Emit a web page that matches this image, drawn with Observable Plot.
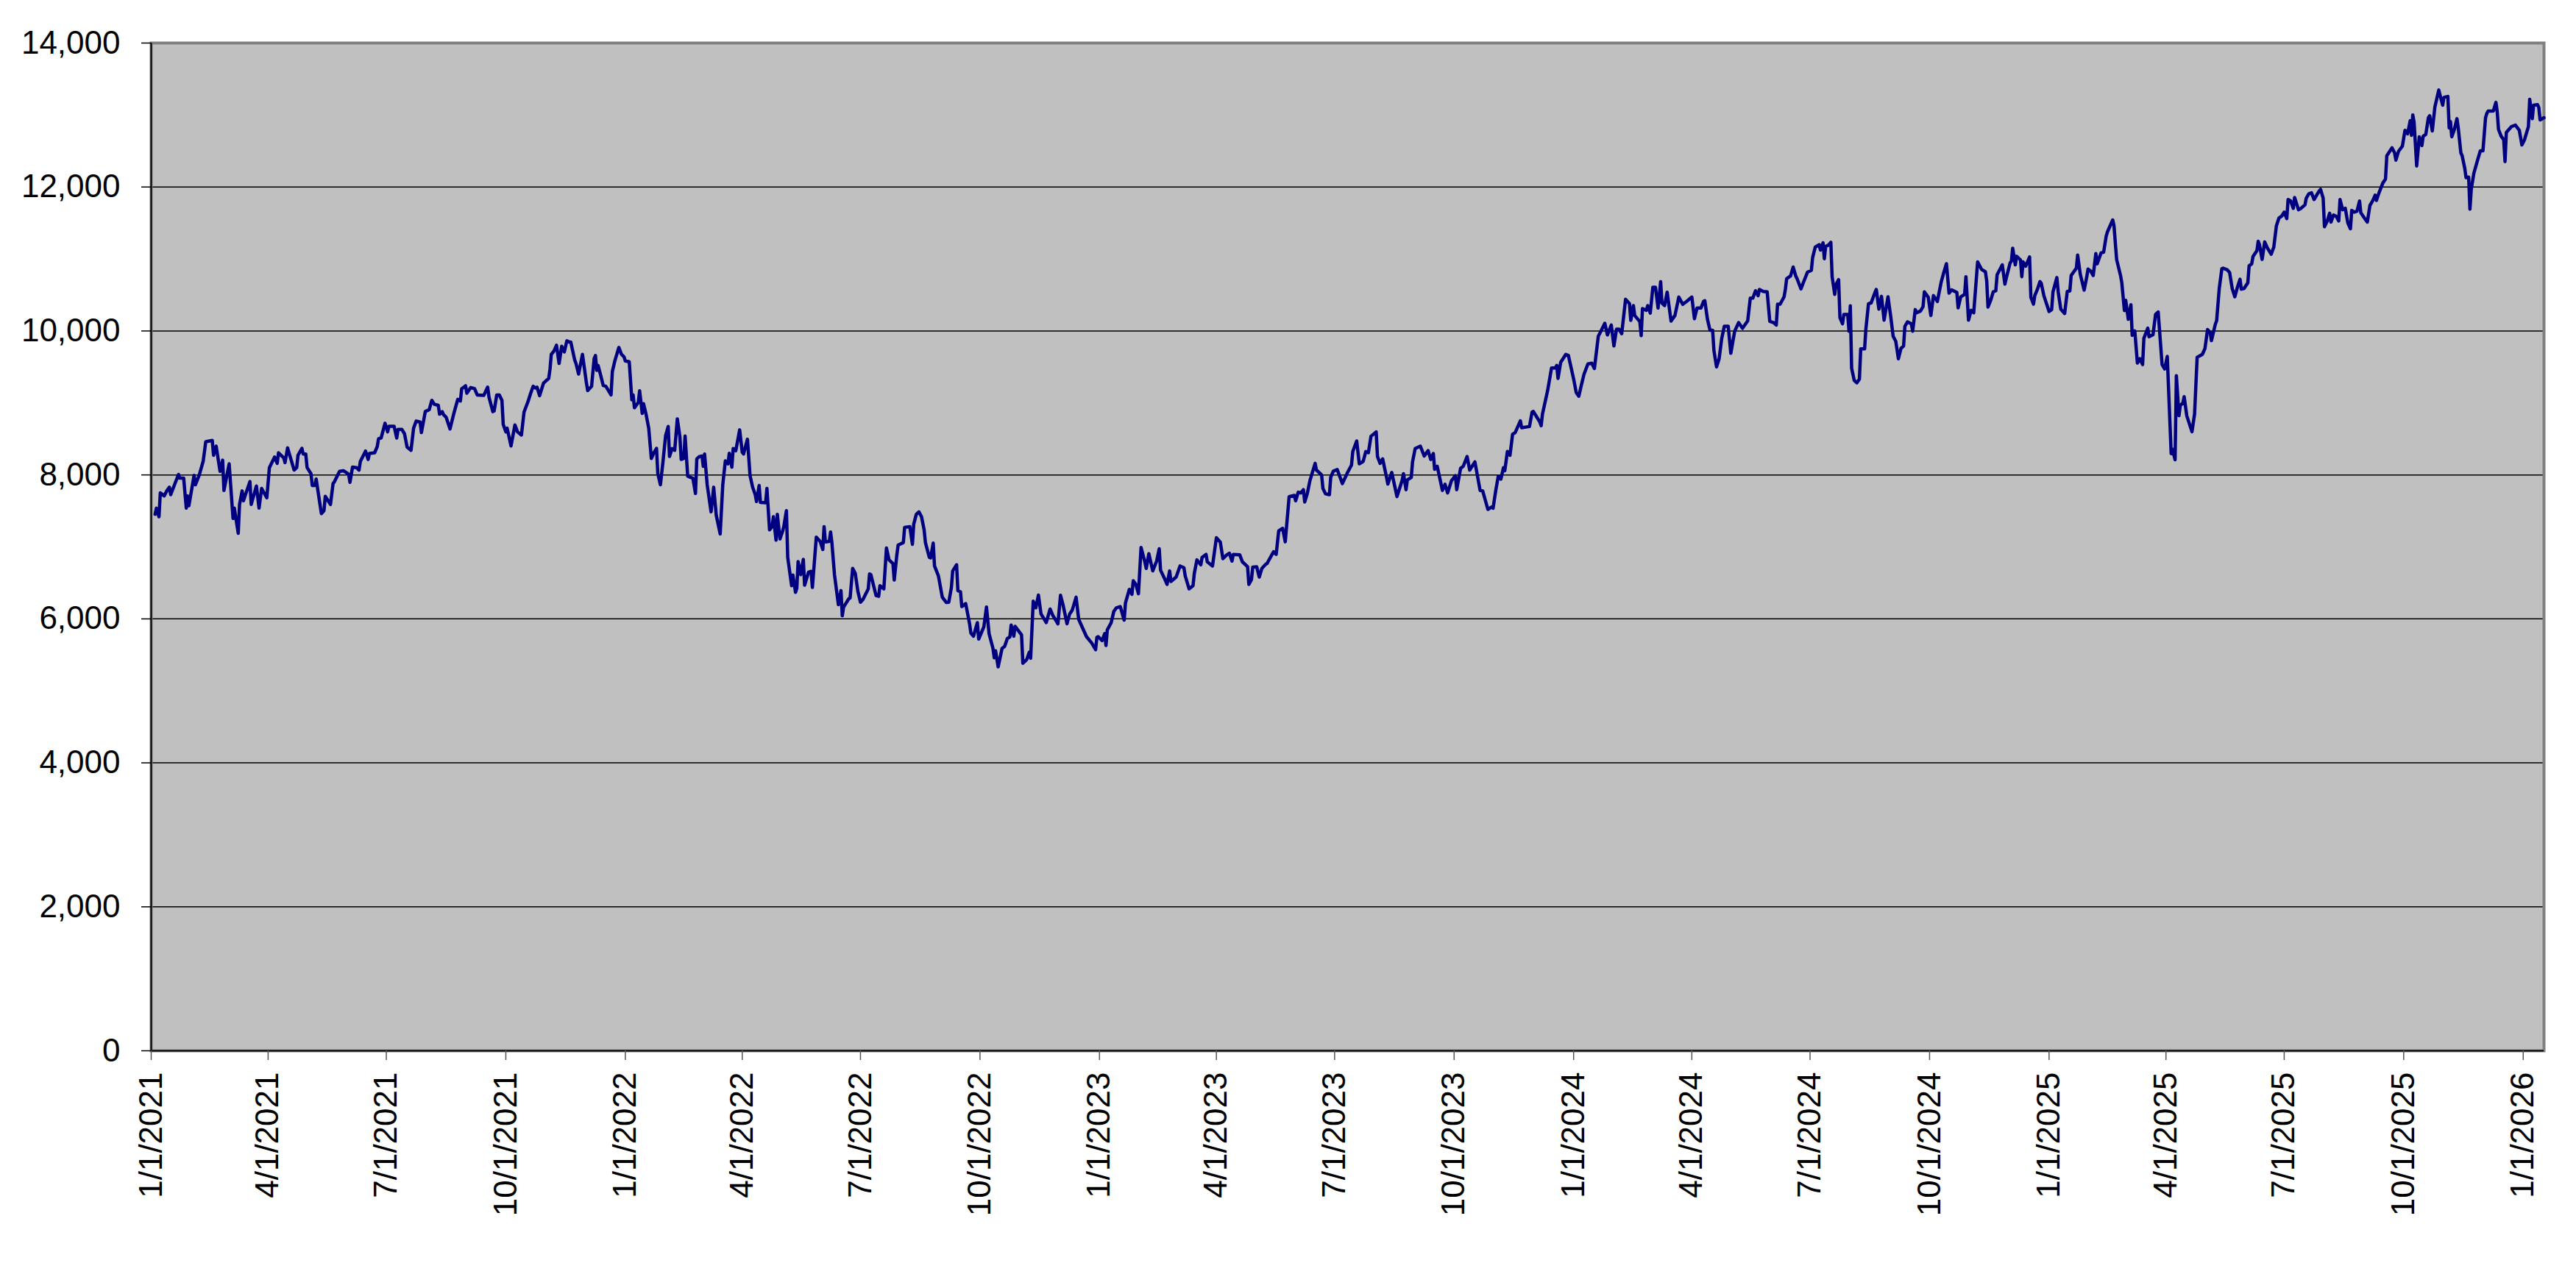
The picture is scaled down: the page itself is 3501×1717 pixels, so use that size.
<!DOCTYPE html>
<html>
<head>
<meta charset="utf-8">
<script src="https://cdn.jsdelivr.net/npm/d3@7"></script>
<script src="https://cdn.jsdelivr.net/npm/@observablehq/plot@0.6"></script>
<style>
  html, body { margin: 0; padding: 0; background: #ffffff; }
  svg { display: block; }
</style>
</head>
<body>
<div id="chart"></div>
<script>
// ---- data (x = days after startDate, y = index value) ----
const startDate = "2021-01-01";
const endDay = 1842;

const days2021 = [3,4,6,7,10,12,14,15,21,22,25,27,28,29,33,34,37,40,42,47,48,50,53,55,56,60,63,64,67,68,70,71,76,77,81,83,85,89,91,95,97,98,102,103,105,110,112,113,116,117,119,120,123,124,126,127,131,133,134,138,140,141,145,148,152,153,155,158,160,161,165,167,168,172,174,175,177,180,182,183,187,189,190,193,195,197,200,202,204,207,208,211,214,216,218,221,222,224,225,227,230,233,236,238,239,242,243,246,249,251,256,259,260,263,264,266,268,270,271,273,274,277,280,282,285,287,290,292,294,296,297,299,302,304,306,307,308,310,312,314,316,318,320,322,323,326,327,329,332,335,336,339,341,342,343,344,346,348,350,354,355,357,360];
const values2021 = [7453,7538,7419,7750,7709,7778,7829,7726,8007,7955,7955,7538,7709,7572,7993,7863,8000,8188,8461,8479,8273,8400,8051,8205,7784,8154,7395,7538,7190,7590,7778,7641,7908,7590,7846,7538,7812,7682,8102,8249,8161,8308,8239,8171,8376,8068,8102,8273,8369,8291,8291,8102,8017,7853,7853,7942,7463,7504,7702,7590,7880,7904,8051,8058,8010,7897,8109,8102,8068,8188,8332,8215,8297,8308,8393,8502,8513,8718,8598,8677,8677,8513,8632,8632,8571,8386,8342,8649,8749,8735,8588,8882,8906,9036,8981,8967,8844,8879,8838,8803,8639,8855,9050,9026,9197,9238,9135,9214,9197,9111,9104,9220,9084,8879,8889,9111,9111,9036,8701,8598,8649,8403,8694,8598,8554,8872,9015,9128,9231,9207,9220,9101,9275,9309,9340,9470,9675,9720,9802,9549,9788,9709,9863,9846,9846,9597,9549,9402,9675,9282,9173,9231,9617,9658,9453,9521,9385,9241,9231,9111,9436,9590,9771];

const days2022 = [362,364,365,368,370,371,372,375,376,378,379,381,383,385,387,389,390,392,394,396,398,399,401,403,405,407,408,410,411,413,415,417,419,420,422,424,425,426,428,431,433,435,438,440,442,444,445,447,448,450,453,455,456,459,461,463,465,466,468,469,473,474,476,478,479,481,482,484,486,487,489,490,493,494,496,497,498,500,502,503,506,508,509,512,515,517,518,519,522,523,524,526,529,531,532,533,537,538,540,542,544,546,548,552,553,554,558,560,561,564,566,568,571,572,574,575,579,580,584,586,587,589,591,593,595,596,599,600,602,603,606,609,612,614,616,617,620,621,623,624,627,630,631,633,636,637,641,643,645,648,649,650,652,655,657,659,661,662,664,665,670,671,674,676,677,679,681,683,685,689,692,694,698,700,702,705,707,709,712,714,717,720,724,727,728];
const values2022 = [9675,9641,9583,9573,9043,9111,8933,9008,9169,8855,8991,8838,8649,8229,8308,8369,8017,7863,8188,8547,8673,8256,8366,8342,8779,8530,8215,8229,8540,7983,7966,7955,7743,8222,8256,8263,8119,8291,7863,7487,7829,7436,7180,7863,8195,8154,8301,8109,8366,8335,8626,8314,8291,8496,7990,7829,7726,7631,7853,7617,7614,7812,7237,7282,7419,7094,7453,7111,7214,7282,7504,6855,6461,6609,6369,6427,6796,6615,6827,6468,6649,6660,6437,7135,7077,6964,7282,7070,7077,7207,7060,6615,6198,6393,6044,6163,6280,6290,6701,6632,6383,6232,6273,6417,6625,6615,6324,6314,6461,6417,6984,6820,6769,6540,6889,7026,7060,7272,7282,7036,7316,7453,7487,7419,7237,7060,6855,6848,7053,6735,6598,6301,6229,6232,6437,6667,6752,6393,6376,6171,6212,5932,5802,5760,5948,5719,5891,6164,5795,5590,5460,5556,5334,5590,5618,5726,5750,5914,5760,5897,5777,5384,5436,5538,5453,6246,6154,6331,6068,5948,6137,6051,5932,6328,6191,5932,6068,6120,6301,5993,5873,5753,5665,5572,5743];

const days2023 = [729,732,734,735,736,739,741,743,746,749,750,753,755,756,758,760,762,765,766,768,771,774,776,777,780,782,784,785,789,792,795,796,799,802,803,805,808,809,812,813,817,820,823,825,828,830,832,833,838,840,844,845,847,848,851,853,855,858,859,860,864,866,868,871,873,876,880,881,883,885,887,888,890,892,896,897,901,902,904,907,908,910,913,917,921,924,925,928,930,933,935,937,939,943,944,946,948,951,952,955,959,963,964,966,967,970,971,973,977,980,983,985,987,988,990,994,996,998,1001,1004,1005,1008,1010,1013,1015,1019,1023,1025,1029,1032,1033,1035,1037,1039,1041,1042,1044,1046,1048,1050,1054,1055,1059,1061,1063,1064,1069,1070,1071,1075,1078,1081,1082,1083,1085,1089,1091,1095,1097,1099];
const values2023 = [5753,5699,5795,5631,5846,5948,6102,6154,6171,5983,6222,6410,6342,6530,6479,6349,6992,6786,6701,6906,6667,6803,6974,6677,6564,6479,6667,6520,6581,6735,6711,6598,6417,6461,6632,6820,6752,6855,6896,6793,6735,7128,7067,6837,6889,6913,6803,6896,6889,6793,6725,6479,6547,6718,6725,6581,6701,6759,6769,6803,6933,6896,7224,7258,7070,7699,7716,7641,7760,7750,7795,7624,7743,7921,8161,8068,8000,7812,7737,7726,7966,8051,8075,7880,8034,8137,8325,8472,8154,8188,8325,8308,8537,8598,8256,8161,8222,7966,7873,8034,7699,7925,8017,7795,7932,7966,8181,8366,8400,8263,8338,8215,8297,8078,8119,7785,7870,7750,7921,7990,7795,8092,8119,8256,8068,8181,7785,7778,7521,7555,7538,7778,7983,7942,8102,8058,8325,8273,8564,8588,8752,8656,8667,8673,8872,8882,8735,8684,8844,9173,9487,9487,9521,9340,9562,9675,9658,9333,9145,9094];

const days2024 = [1101,1103,1106,1109,1111,1114,1116,1119,1121,1124,1126,1128,1130,1132,1135,1138,1139,1141,1142,1146,1147,1148,1151,1152,1154,1156,1158,1160,1162,1163,1165,1167,1170,1173,1176,1179,1182,1186,1188,1190,1193,1195,1196,1198,1200,1202,1203,1205,1207,1209,1211,1214,1216,1219,1222,1225,1229,1231,1233,1235,1237,1238,1241,1244,1246,1249,1251,1252,1254,1257,1258,1259,1262,1264,1266,1267,1270,1272,1275,1278,1279,1281,1284,1285,1287,1288,1289,1291,1293,1294,1296,1297,1299,1300,1302,1303,1306,1307,1308,1309,1311,1313,1315,1316,1319,1320,1322,1324,1327,1328,1330,1332,1334,1337,1339,1341,1343,1345,1347,1349,1350,1352,1355,1356,1358,1359,1362,1364,1365,1368,1370,1372,1375,1378,1380,1382,1384,1386,1390,1391,1393,1396,1397,1399,1401,1403,1406,1409,1412,1413,1414,1416,1418,1420,1421,1425,1427,1428,1431,1432,1433,1435,1436,1439,1440,1441,1443,1446,1447,1449,1450,1452,1454,1455,1457,1461,1463,1464,1467];
const values2024 = [9250,9399,9542,9553,9478,9928,9997,10106,9945,10082,9792,10024,10024,9962,10440,10379,10147,10352,10215,10130,9935,10311,10287,10352,10249,10608,10608,10318,10683,10386,10352,10539,10137,10215,10471,10369,10410,10471,10171,10318,10318,10410,10420,10164,10010,10010,9730,9501,9614,9894,10065,10065,9689,9997,10116,10037,10140,10457,10457,10559,10490,10577,10549,10543,10133,10116,10082,10372,10372,10474,10577,10727,10764,10888,10764,10727,10584,10679,10816,10843,11020,11164,11198,11123,11225,11004,11174,11191,11232,10754,10508,10645,10713,10184,10099,10229,10229,9997,10349,9484,9314,9280,9331,9751,9751,10031,10379,10389,10536,10577,10304,10481,10150,10474,10215,9925,9856,9614,9757,9792,10065,10126,10099,9997,10297,10253,10277,10338,10543,10468,10215,10491,10410,10683,10816,10935,10526,10570,10536,10321,10474,10508,10754,10150,10287,10253,10959,10857,10822,10696,10331,10423,10543,10559,10781,10918,10652,10730,10945,10969,11150,10918,11038,10986,10754,10959,10901,11027,10468,10372,10491,10577,10686,10662,10491,10270,10297,10543,10741];

const days2025 = [1468,1470,1473,1475,1477,1478,1482,1483,1485,1488,1490,1491,1493,1495,1497,1498,1501,1503,1505,1506,1510,1511,1513,1516,1517,1519,1520,1522,1524,1525,1527,1529,1531,1533,1534,1537,1538,1541,1543,1545,1548,1550,1552,1555,1556,1558,1559,1561,1562,1564,1565,1567,1571,1573,1575,1577,1579,1581,1583,1585,1586,1589,1590,1592,1594,1595,1598,1600,1602,1604,1606,1608,1609,1611,1614,1615,1617,1618,1621,1622,1623,1625,1627,1629,1632,1634,1636,1638,1640,1642,1644,1645,1647,1649,1650,1653,1655,1658,1659,1661,1663,1665,1669,1670,1672,1673,1675,1677,1678,1680,1682,1684,1685,1687,1689,1691,1693,1694,1696,1698,1700,1701,1704,1706,1708,1710,1712,1713,1715,1718,1720,1721,1725,1727,1728,1730,1733,1735,1737,1739,1740,1741,1742,1744,1746,1748,1749,1751,1753,1754,1756,1758,1761,1762,1764,1765,1768,1769,1770,1771,1773,1775,1776,1778,1779,1781,1782,1784,1785,1786,1788,1791,1793,1795,1797,1798,1799,1803,1805,1806,1807,1809,1811,1812,1813,1815,1817,1820,1823,1825,1827,1830,1831,1833,1834,1837,1838,1839,1842];
const values2025 = [10548,10304,10243,10548,10556,10771,10872,11055,10791,10568,10750,10860,10832,10771,11075,10933,11083,11095,11318,11379,11542,11460,10994,10771,10669,10284,10426,10162,10365,9939,10000,9554,9615,9533,9898,10040,9919,9947,10231,10264,9533,9472,9647,8296,8357,8211,9379,8823,8965,8998,9087,8823,8600,8844,9635,9655,9675,9756,10020,9980,9866,10093,10142,10588,10864,10872,10852,10811,10588,10475,10608,10718,10580,10588,10669,10905,10933,11034,11116,11245,11196,10994,11237,11156,11067,11164,11460,11570,11594,11651,11562,11826,11805,11704,11854,11684,11704,11753,11846,11907,11919,11826,11947,11968,11846,11448,11521,11635,11513,11611,11594,11529,11826,11684,11704,11501,11420,11675,11651,11663,11805,11643,11562,11513,11744,11805,11886,11813,11919,12057,12110,12434,12544,12475,12373,12495,12568,12787,12738,12921,12718,13002,12901,12292,12698,12576,12706,12730,12962,12990,12779,13112,13347,13274,13136,13245,13258,12820,12909,12698,12799,12949,12820,12475,12434,12260,12130,12138,11692,11968,12191,12381,12503,12503,12962,13022,13055,13055,13177,13043,12799,12706,12657,12353,12758,12799,12840,12860,12787,12584,12657,12840,13217,12949,13136,13144,13104,12933,12962];

const tickDates = ["2021-01-01","2021-04-01","2021-07-01","2021-10-01","2022-01-01","2022-04-01","2022-07-01","2022-10-01","2023-01-01","2023-04-01","2023-07-01","2023-10-01","2024-01-01","2024-04-01","2024-07-01","2024-10-01","2025-01-01","2025-04-01","2025-07-01","2025-10-01","2026-01-01"];
const yTicks = [0, 2000, 4000, 6000, 8000, 10000, 12000, 14000];

// ---- build table ----
const DAY = 86400000;
const base = new Date(startDate + "T00:00:00Z").getTime();
const toDate = d => new Date(base + d * DAY);
const segments = [
  [days2021, values2021], [days2022, values2022], [days2023, values2023],
  [days2024, values2024], [days2025, values2025]
];
const series = [];
for (const [ds, vs] of segments) {
  const n = Math.min(ds.length, vs.length);
  for (let i = 0; i < n; i++) series.push({date: toDate(ds[i]), value: vs[i]});
}
const ticks = tickDates.map(s => new Date(s + "T00:00:00Z"));

const fmtDate = d3.utcFormat("%-m/%-d/%Y");
const fmtNum = d3.format(",");

const chart = Plot.plot({
  width: 3501,
  height: 1717,
  marginTop: 58,
  marginBottom: 289,
  marginLeft: 205,
  marginRight: 44,
  style: {
    fontFamily: "'Liberation Sans', Arial, Helvetica, sans-serif",
    fontSize: "44px",
    background: "#ffffff",
    color: "#000000",
    overflow: "visible"
  },
  x: {type: "utc", domain: [toDate(0), toDate(endDay)], label: null},
  y: {domain: [0, 14000], label: null},
  marks: [
    Plot.frame({fill: "#C0C0C0"}),
    Plot.gridY(yTicks, {stroke: "#000000", strokeOpacity: 1, strokeWidth: 1.5}),
    Plot.frame({stroke: "#808080", strokeWidth: 4}),
    Plot.ruleX([toDate(0)], {stroke: "#000000", strokeWidth: 2}),
    Plot.ruleY([0], {stroke: "#000000", strokeWidth: 2}),
    Plot.axisY(yTicks, {
      tickSize: 13, tickPadding: 29, tickFormat: fmtNum,
      fontSize: 44, stroke: "#000000", strokeWidth: 1.5
    }),
    Plot.axisX(ticks, {
      tickSize: 13, tickPadding: 16, tickRotate: -90, tickFormat: fmtDate,
      fontSize: 44, stroke: "#555555", strokeWidth: 1.5
    }),
    Plot.line(series, {x: "date", y: "value", stroke: "#000080", strokeWidth: 4.5, strokeLinejoin: "round"})
  ]
});
document.getElementById("chart").appendChild(chart);
</script>
</body>
</html>
